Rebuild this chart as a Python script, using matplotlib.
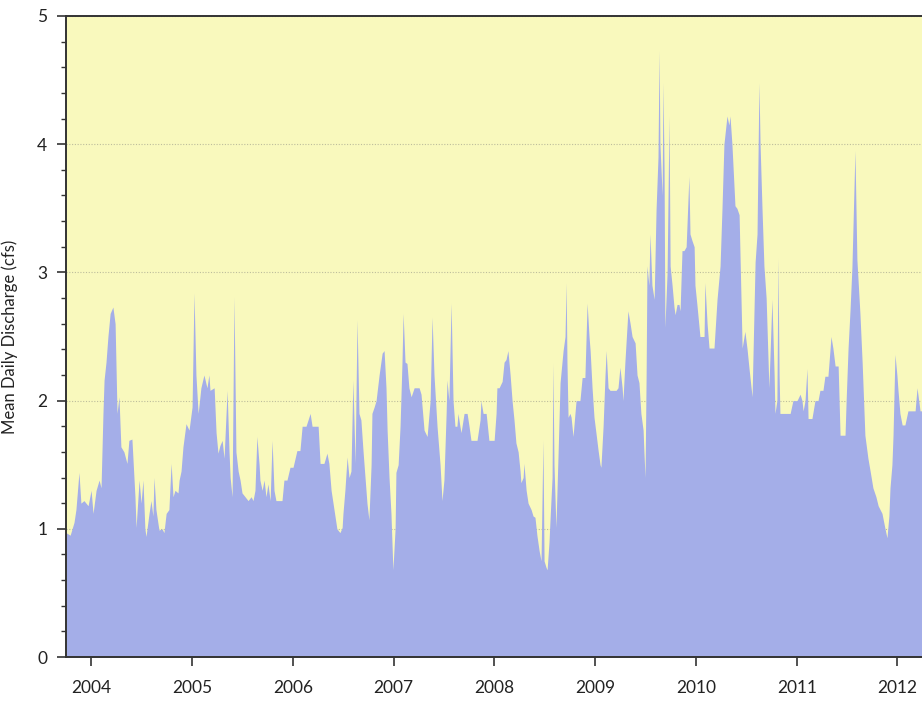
"""
Mean daily discharge hydrograph, water years 2004-2012.
"""

import numpy as np
import pandas as pd
import matplotlib
matplotlib.use('Agg')
import matplotlib.pyplot as plt
import matplotlib.dates as mdates
from matplotlib.ticker import MultipleLocator

#------------------------------------
#Data
#------------------------------------

start_date = '2003-10-01'

#days since start of record
days = [
    0, 15, 29, 36, 47, 54, 65, 80, 91, 98, 109, 120, 127, 134, 138, 145, 152, 160, 170, 178,
    185, 192, 199, 210, 221, 228, 239, 250, 254, 265, 272, 279, 286, 290, 301, 308, 315, 319, 326, 337,
    348, 355, 363, 373, 381, 388, 395, 406, 410, 417, 424, 435, 446, 457, 464, 471, 479, 489, 500, 511,
    518, 522, 537, 544, 551, 558, 566, 573, 584, 591, 595, 602, 609, 616, 624, 631, 638, 649, 660, 671,
    678, 685, 692, 700, 703, 711, 718, 725, 732, 740, 747, 754, 761, 772, 783, 790, 801, 812, 823, 837,
    848, 856, 870, 885, 892, 903, 914, 921, 935, 946, 953, 961, 968, 975, 982, 993, 1001, 1004, 1011, 1019,
    1026, 1033, 1040, 1048, 1055, 1062, 1069, 1077, 1084, 1091, 1098, 1106, 1109, 1117, 1124, 1135, 1146, 1153, 1160, 1164,
    1171, 1178, 1185, 1193, 1196, 1204, 1211, 1218, 1222, 1229, 1236, 1243, 1251, 1262, 1272, 1280, 1287, 1298, 1309, 1320,
    1327, 1334, 1345, 1356, 1363, 1370, 1378, 1381, 1388, 1396, 1403, 1410, 1417, 1421, 1428, 1432, 1443, 1454, 1461, 1468,
    1479, 1490, 1501, 1504, 1512, 1523, 1533, 1544, 1552, 1559, 1562, 1570, 1581, 1588, 1595, 1602, 1610, 1617, 1624, 1631,
    1639, 1646, 1649, 1657, 1660, 1668, 1675, 1686, 1693, 1700, 1707, 1715, 1722, 1729, 1733, 1740, 1744, 1751, 1755, 1762,
    1765, 1769, 1776, 1784, 1791, 1798, 1802, 1809, 1813, 1816, 1820, 1827, 1831, 1838, 1845, 1849, 1856, 1863, 1871, 1881,
    1889, 1896, 1900, 1907, 1914, 1921, 1929, 1936, 1939, 1947, 1954, 1958, 1965, 1972, 1983, 1994, 2001, 2008, 2016, 2019,
    2026, 2037, 2045, 2052, 2063, 2070, 2077, 2084, 2092, 2095, 2099, 2103, 2106, 2113, 2117, 2124, 2132, 2139, 2146, 2150,
    2153, 2161, 2164, 2168, 2171, 2179, 2186, 2190, 2197, 2204, 2208, 2215, 2222, 2226, 2233, 2240, 2248, 2258, 2262, 2269,
    2277, 2280, 2287, 2295, 2298, 2306, 2313, 2316, 2324, 2331, 2342, 2349, 2360, 2371, 2378, 2385, 2396, 2403, 2407, 2414,
    2425, 2432, 2440, 2451, 2461, 2469, 2476, 2487, 2498, 2505, 2512, 2516, 2523, 2530, 2538, 2548, 2559, 2567, 2570, 2577,
    2581, 2585, 2588, 2599, 2614, 2625, 2635, 2650, 2661, 2668, 2672, 2679, 2686, 2690, 2704, 2715, 2726, 2733, 2744, 2751,
    2762, 2770, 2773, 2780, 2788, 2799, 2806, 2817, 2824, 2828, 2835, 2842, 2849, 2860, 2867, 2878, 2886, 2896, 2907, 2915,
    2925, 2936, 2944, 2951, 2958, 2969, 2976, 2983, 2987, 2994, 2998, 3005, 3012, 3016, 3023, 3031, 3041, 3052, 3067, 3078,
    3085, 3096, 3103,
]

#mean daily discharge [cfs]
discharge = [
    0.97, 0.95, 1.05, 1.15, 1.44, 1.20, 1.22, 1.18, 1.30, 1.12, 1.30, 1.38, 1.32, 1.90, 2.16, 2.30, 2.50, 2.68, 2.73, 2.60,
    1.90, 2.03, 1.64, 1.60, 1.51, 1.69, 1.70, 1.25, 1.01, 1.38, 1.20, 1.38, 1.00, 0.94, 1.12, 1.22, 1.10, 1.40, 1.15, 0.99,
    1.00, 0.97, 1.12, 1.15, 1.51, 1.25, 1.30, 1.28, 1.38, 1.45, 1.64, 1.82, 1.77, 1.95, 2.84, 2.20, 1.90, 2.10, 2.20, 2.10,
    2.20, 2.08, 2.10, 1.75, 1.59, 1.65, 1.69, 1.55, 2.08, 1.60, 1.40, 1.25, 2.81, 1.60, 1.45, 1.38, 1.28, 1.25, 1.22, 1.25,
    1.22, 1.30, 1.72, 1.50, 1.38, 1.30, 1.38, 1.25, 1.35, 1.22, 1.69, 1.30, 1.22, 1.22, 1.22, 1.38, 1.38, 1.48, 1.48, 1.61,
    1.61, 1.80, 1.80, 1.90, 1.80, 1.80, 1.80, 1.51, 1.51, 1.59, 1.51, 1.30, 1.20, 1.10, 1.00, 0.97, 1.01, 1.12, 1.30, 1.56,
    1.40, 1.45, 2.16, 1.51, 2.63, 1.90, 1.85, 1.60, 1.40, 1.20, 1.07, 1.50, 1.90, 1.95, 2.00, 2.20, 2.37, 2.39, 2.10, 1.77,
    1.40, 1.12, 0.68, 1.00, 1.44, 1.50, 1.80, 2.30, 2.68, 2.30, 2.29, 2.10, 2.03, 2.10, 2.10, 2.10, 2.05, 1.77, 1.72, 2.00,
    2.65, 2.20, 1.80, 1.50, 1.22, 1.38, 1.90, 2.16, 2.00, 2.76, 2.00, 1.80, 1.80, 1.90, 1.80, 1.75, 1.90, 1.90, 1.80, 1.69,
    1.69, 1.69, 1.85, 2.00, 1.90, 1.90, 1.69, 1.69, 1.69, 1.90, 2.10, 2.10, 2.15, 2.30, 2.32, 2.39, 2.20, 2.00, 1.85, 1.67,
    1.60, 1.45, 1.36, 1.40, 1.51, 1.30, 1.20, 1.15, 1.10, 1.09, 0.95, 0.83, 0.75, 1.69, 0.75, 0.70, 0.68, 0.90, 1.09, 1.40,
    2.29, 1.50, 1.01, 1.60, 2.14, 2.30, 2.39, 2.50, 2.92, 2.30, 1.87, 1.90, 1.87, 1.72, 1.90, 2.00, 2.00, 2.00, 2.18, 2.18,
    2.76, 2.50, 2.39, 2.10, 1.87, 1.75, 1.61, 1.50, 1.48, 1.80, 2.20, 2.39, 2.10, 2.08, 2.08, 2.08, 2.10, 2.26, 2.10, 2.00,
    2.30, 2.70, 2.60, 2.50, 2.45, 2.20, 2.14, 1.90, 1.77, 1.60, 1.40, 2.20, 3.05, 2.90, 3.30, 2.90, 2.79, 3.49, 3.90, 4.73,
    4.00, 3.60, 4.48, 3.80, 2.57, 3.00, 4.22, 3.05, 2.90, 2.73, 2.67, 2.75, 2.75, 2.70, 3.17, 3.17, 3.20, 3.75, 3.30, 3.25,
    3.20, 2.90, 2.75, 2.57, 2.50, 2.50, 2.50, 2.92, 2.60, 2.41, 2.41, 2.41, 2.79, 3.05, 3.50, 4.00, 4.22, 4.15, 4.22, 4.00,
    3.52, 3.50, 3.45, 2.41, 2.54, 2.40, 2.25, 2.03, 3.08, 3.30, 4.48, 4.00, 3.50, 3.05, 2.80, 2.10, 2.79, 2.20, 1.90, 2.00,
    3.11, 2.20, 1.90, 1.90, 1.90, 1.90, 2.00, 2.00, 2.05, 2.00, 1.92, 2.00, 2.25, 1.86, 1.86, 2.00, 2.00, 2.08, 2.08, 2.19,
    2.19, 2.41, 2.50, 2.41, 2.27, 2.27, 1.73, 1.73, 1.73, 2.00, 2.41, 2.70, 3.04, 3.95, 3.10, 2.68, 2.30, 1.73, 1.55, 1.45,
    1.32, 1.25, 1.18, 1.15, 1.12, 1.00, 0.93, 1.10, 1.32, 1.50, 1.73, 2.36, 2.20, 2.08, 1.90, 1.81, 1.81, 1.92, 1.92, 1.92,
    2.10, 1.92, 1.92,
]

x_start = '2003-10-01'
x_end = '2012-03-30'
y_label = 'Mean Daily Discharge (cfs)'

#------------------------------------
#Main script
#------------------------------------

plt.rcParams['font.family'] = ['Lato', 'DejaVu Sans']

dates = pd.Timestamp(start_date) + pd.to_timedelta(np.array(days), unit='D')
q = np.array(discharge)

fig = plt.figure(figsize=(9.22, 7.02), dpi=100)
ax = fig.add_axes([66/922, 45/702, 856/922, 641/702])

ax.set_facecolor('#f9f9bd')
ax.fill_between(dates, q, 0, color='#a4aee8', linewidth=0, zorder=2)

ax.set_xlim(pd.Timestamp(x_start), pd.Timestamp(x_end))
ax.set_ylim(0, 5)

ax.xaxis.set_major_locator(mdates.YearLocator())
ax.xaxis.set_major_formatter(mdates.DateFormatter('%Y'))
ax.yaxis.set_major_locator(MultipleLocator(1))
ax.yaxis.set_minor_locator(MultipleLocator(0.2))

ax.yaxis.grid(True, which='major', linestyle=(0, (1, 1.5)), color='#bdbd9c', linewidth=0.8, zorder=1)
ax.set_axisbelow(True)

for s in ['left', 'bottom', 'top']:
    ax.spines[s].set_color('#333333')
    ax.spines[s].set_linewidth(1.4)
    ax.spines[s].set_zorder(3)
ax.spines['right'].set_visible(False)

ax.tick_params(axis='both', which='major', direction='out', length=6.5, width=1.2,
               colors='#333333', labelsize=12.5, labelcolor='#222222')
ax.tick_params(axis='y', which='minor', direction='out', length=3.5, width=1.0, colors='#333333')
ax.tick_params(axis='y', which='major', pad=7)
ax.tick_params(axis='x', which='major', pad=10)

ax.set_ylabel(y_label, fontsize=12, color='#222222', labelpad=14)

plt.savefig('out.png', dpi=100)
